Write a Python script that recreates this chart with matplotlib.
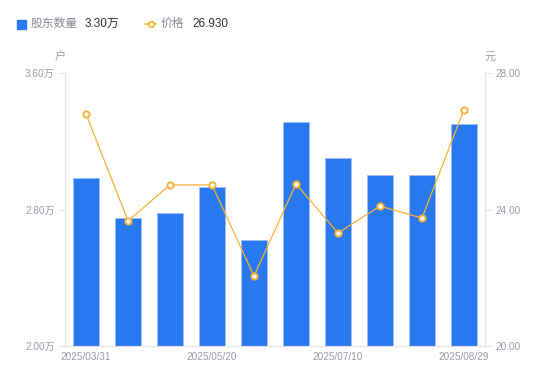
import matplotlib
matplotlib.use("Agg")
import matplotlib.pyplot as plt
import numpy as np

plt.rcParams['font.family'] = ['Liberation Sans', 'Noto Sans CJK SC', 'DejaVu Sans']

dates = ["2025/03/31", "2025/04/18", "2025/04/30", "2025/05/20", "2025/06/10",
         "2025/06/20", "2025/07/10", "2025/07/31", "2025/08/20", "2025/08/29"]
holders = [2.985, 2.75, 2.78, 2.93, 2.62, 3.31, 3.10, 3.00, 3.00, 3.30]  # 万户
price = [26.80, 23.67, 24.72, 24.72, 22.05, 24.75, 23.31, 24.10, 23.75, 26.93]
shown_ticks = [0, 3, 6, 9]

blue = '#2878F0'
orange = '#F7B237'
grey_txt = '#9A9AAA'
axis_c = '#E3E3E3'

fig = plt.figure(figsize=(5.5, 3.81), dpi=100)
ax = fig.add_axes([65/550, 1-346/381, 420/550, 273/381])
ax2 = ax.twinx()

x = np.arange(len(dates))
ax.bar(x, holders, width=0.62, color=blue, edgecolor='#9cc0f7', linewidth=0.6, zorder=2)
ax.set_ylim(2.0, 3.6)
ax.set_xlim(-0.5, len(dates) - 0.5)
ax.set_yticks([2.0, 2.8, 3.6])
ax.set_yticklabels(["2.00万", "2.80万", "3.60万"])
ax.set_xticks([x[i] for i in shown_ticks])
ax.set_xticklabels([dates[i] for i in shown_ticks])

ax2.plot(x, price, color=orange, linewidth=0.9, marker='o', markersize=4.5,
         markerfacecolor='white', markeredgecolor=orange, markeredgewidth=1.4, zorder=3)
ax2.set_ylim(20, 28)
ax2.set_yticks([20, 24, 28])
ax2.set_yticklabels(["20.00", "24.00", "28.00"])

for a in (ax, ax2):
    for s in a.spines.values():
        s.set_color(axis_c)
        s.set_linewidth(0.8)
    a.spines['top'].set_visible(False)
    a.tick_params(colors=grey_txt, labelsize=7.2, length=4, width=0.8, color=axis_c)
ax.tick_params(axis='x', length=0, pad=4)
ax2.tick_params(axis='x', length=0)

fig.text(60/550, 1-57/381, "户", color=grey_txt, fontsize=8, ha='center', va='center')
fig.text(490/550, 1-57/381, "元", color=grey_txt, fontsize=8, ha='center', va='center')

# legend
fig.patches.append(plt.Rectangle((17/550, 1-29/381), 9/550, 9/381, transform=fig.transFigure,
                                 color=blue, figure=fig))
fig.text(31/550, 1-24/381, "股东数量", color='#8A8A99', fontsize=8.5, va='center')
fig.text(85/550, 1-24/381, "3.30万", color='#333333', fontsize=8.5, va='center')
fig.lines.append(plt.Line2D([145/550, 150.5/550, 156/550], [1-24/381] * 3,
                            transform=fig.transFigure,
                            color=orange, linewidth=1.2, marker='o', markersize=4,
                            markevery=[1], markerfacecolor='white', markeredgecolor=orange,
                            markeredgewidth=1.3, figure=fig))
fig.text(161/550, 1-24/381, "价格", color='#8A8A99', fontsize=8.5, va='center')
fig.text(192/550, 1-24/381, "26.930", color='#333333', fontsize=8.5, va='center')

fig.savefig("out.png", dpi=100)
